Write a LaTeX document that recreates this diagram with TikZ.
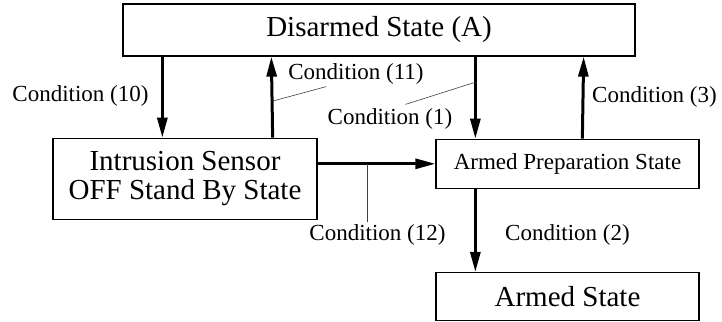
\documentclass[tikz,border=0pt]{standalone}
\usepackage{fontspec}
\setmainfont{Liberation Serif}
\usetikzlibrary{positioning}
\usetikzlibrary{arrows.meta}

\begin{document}
\begin{tikzpicture}[
          x = 1pt, y = -1pt,
          state/.style = {rectangle, draw, line width=1.3pt, minimum width=263pt, minimum height=49pt, inner sep=0pt, align=center, font=\fontsize{23}{23}\selectfont},
          bigstate/.style = {state, font=\fontsize{29}{29}\selectfont},
          arrow/.style = {line width=3pt, -{Triangle[length=20pt, width=10pt]}},
          cond/.style = {inner sep=0pt, font=\fontsize{23}{23}\selectfont},
          leader/.style = {line width=0.6pt, black!75}
        ]
        \useasboundingbox (0,0) rectangle (722,321);

        % Nodes
        \node[bigstate, minimum width=512pt, minimum height=52pt] (disarmed) at (379,30) {Disarmed State (A)};
        \node[bigstate, minimum width=264pt, minimum height=81pt, below=81pt of disarmed.south west, anchor=north west, xshift=-70pt] (sensor) {Intrusion Sensor\\OFF Stand By State};
        \node[state, below=82pt of disarmed.south east, anchor=north east, xshift=64pt] (prep) {Armed Preparation State};
        \node[bigstate, minimum height=48pt, below=83pt of prep] (armed) {Armed State};

        % Paths between nodes
        \draw[arrow] ([xshift=40pt]disarmed.south west) -- ([xshift=110pt]sensor.north west);
        \draw[arrow] ([xshift=-45pt]sensor.north east) -- ([xshift=149pt]disarmed.south west);
        \draw[arrow] ([xshift=353pt]disarmed.south west) -- ([xshift=40pt]prep.north west);
        \draw[arrow] ([xshift=147pt]prep.north west) -- ([xshift=-52pt]disarmed.south east);
        \draw[arrow] (sensor.east |- prep.west) -- (prep.west);
        \draw[arrow] ([xshift=40pt]prep.south west) -- ([xshift=40pt]armed.north west);

        % Condition labels
        \node[cond] (c10) at (80.5,96) {Condition (10)};
        \node[cond] (c11) at (356,74) {Condition (11)};
        \node[cond] (c1) at (390,119) {Condition (1)};
        \node[cond] (c3) at (654.5,96.5) {Condition (3)};
        \node[cond] (c12) at (377.5,235) {Condition (12)};
        \node[cond] (c2) at (567.5,235) {Condition (2)};

        % Leader lines
        \coordinate (tip11) at (273,101);
        \coordinate (tip1) at (476,82);
        \coordinate (tip12) at ([xshift=-10.5pt,yshift=2pt]c12.north);
        \draw[leader] (tip11) -- ([xshift=38pt,yshift=-2pt]c11.south west);
        \draw[leader] (tip1) -- ([xshift=78pt,yshift=4pt]c1.north west);
        \draw[leader] (tip12) -- (tip12 |- prep.west);

      \end{tikzpicture}
\end{document}
